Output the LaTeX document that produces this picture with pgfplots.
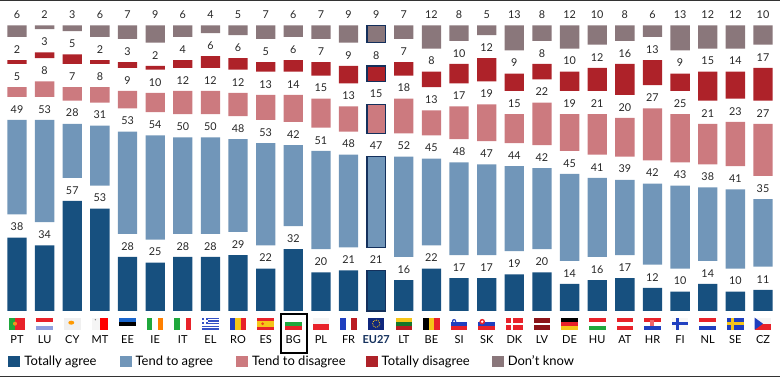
\documentclass[border=0pt]{standalone}
\usepackage{pgfplots}
\usepackage{pgfplotstable}
\usepackage{fontspec}
\setmainfont{Lato}
\pgfplotsset{compat=1.18}
\definecolor{ca}{HTML}{17507F}
\definecolor{cb}{HTML}{7196B9}
\definecolor{cc}{HTML}{CC7A7F}
\definecolor{cd}{HTML}{AE2229}
\definecolor{ce}{HTML}{8A777B}
\definecolor{navy}{HTML}{14305C}
\definecolor{fr}{HTML}{E8222A}
\definecolor{fb}{HTML}{1F3FBF}
\definecolor{fg}{HTML}{1FA83C}
\definecolor{fy}{HTML}{F5C518}
\pgfplotstableread{
i ta g tb tc td te
0 38 12 49 5 2 6
1 34 12 53 8 3 2
2 57 12 28 7 5 3
3 53 12 31 8 2 6
4 28 12 53 9 3 7
5 25 12 54 10 2 9
6 28 12 50 12 4 6
7 28 12 50 12 6 4
8 29 12 48 12 6 5
9 22 12 53 13 5 7
10 32 12 42 14 6 6
11 20 12 51 15 7 7
12 21 12 48 13 9 9
13 21 12 47 15 8 9
14 16 12 52 18 7 7
15 22 12 45 13 8 12
16 17 12 48 17 10 8
17 17 12 47 19 12 5
18 19 12 44 15 9 13
19 20 12 42 22 8 8
20 14 12 45 19 10 12
21 16 12 41 21 12 10
22 17 12 39 20 16 8
23 12 12 42 27 13 6
24 10 12 43 25 9 13
25 14 12 38 21 15 12
26 10 12 41 23 14 12
27 11 12 35 27 17 10
}\datatable
\newcommand\flagat[2]{\begin{scope}[shift={({(17+27.63*#1)*1pt},{59.3pt})},x=1pt,y=-1pt]#2\end{scope}}
\newcommand\hb[3]{\fill[#1] (-8.3,0) rectangle (8.3,4);\fill[#2] (-8.3,4) rectangle (8.3,8);\fill[#3] (-8.3,8) rectangle (8.3,12);}
\newcommand\vb[3]{\fill[#1] (-8.3,0) rectangle (-2.8,12);\fill[#2] (-2.8,0) rectangle (2.8,12);\fill[#3] (2.8,0) rectangle (8.3,12);}
\begin{document}
\begin{tikzpicture}
\useasboundingbox (0,0) rectangle (780pt,377pt);
\fill[black!80] (0,376.2pt) rectangle (780pt,377pt);
\fill[black!80] (0,0) rectangle (780pt,0.9pt);
\begin{axis}[
  at={(0,66pt)}, anchor=south west,
  scale only axis, width=780pt, height=311pt,
  xmin=-0.6153, xmax=27.615, ymin=0, ymax=161.14,
  clip=false,
  ybar stacked, bar width=19.3pt,
  axis line style={draw=none}, major tick style={draw=none},
  ytick=\empty,
  xtick={0,...,27},
  xticklabels={PT,LU,CY,MT,EE,IE,IT,EL,RO,ES,BG,PL,FR,{\textbf{\color{navy}EU27}},LT,BE,SI,SK,DK,LV,DE,HU,AT,HR,FI,NL,SE,CZ},
  xticklabel style={font=\fontsize{11}{12}\selectfont, anchor=center, yshift=-29pt, inner sep=0pt},
  point meta=rawy,
  visualization depends on=rawy \as \rawyval,
  /pgf/number format/assume math mode=true,
  nodes near coords style={font=\fontsize{10.8}{12}\selectfont, anchor=south, inner sep=0pt, yshift={\rawyval*0.965pt+6.5pt}, text=black!85},
  legend style={draw=none, fill=none, at={(0.01064,-0.1624)}, anchor=west, inner sep=0pt, font=\fontsize{13}{15}\selectfont, legend columns=5,
    /tikz/column 1/.style={column sep=2pt},
    /tikz/column 3/.style={column sep=2pt},
    /tikz/column 5/.style={column sep=2pt},
    /tikz/column 7/.style={column sep=2pt},
    /tikz/column 9/.style={column sep=2pt},
    /tikz/column 2/.style={column sep=21pt},
    /tikz/column 4/.style={column sep=21pt},
    /tikz/column 6/.style={column sep=18pt},
    /tikz/column 8/.style={column sep=20pt}},
  legend cell align=left,
  legend image code/.code={\fill[#1] (0pt,-5.6pt) rectangle (12pt,5.6pt);},
]
\addplot[fill=ca,draw=none,nodes near coords] table[x=i,y=ta]{\datatable};
\addlegendentry{Totally agree}
\addplot[fill=none,draw=none,forget plot] table[x=i,y=g]{\datatable};
\addplot[fill=cb,draw=none,nodes near coords] table[x=i,y=tb]{\datatable};
\addlegendentry{Tend to agree}
\addplot[fill=none,draw=none,forget plot] table[x=i,y=g]{\datatable};
\addplot[fill=cc,draw=none,nodes near coords] table[x=i,y=tc]{\datatable};
\addlegendentry{Tend to disagree}
\addplot[fill=none,draw=none,forget plot] table[x=i,y=g]{\datatable};
\addplot[fill=cd,draw=none,nodes near coords] table[x=i,y=td]{\datatable};
\addlegendentry{Totally disagree}
\addplot[fill=none,draw=none,forget plot] table[x=i,y=g]{\datatable};
\addplot[fill=ce,draw=none,nodes near coords] table[x=i,y=te]{\datatable};
\addlegendentry{Don't know}
\end{axis}
% EU27 outlines
\begin{axis}[
  at={(0,66pt)}, anchor=south west,
  scale only axis, width=780pt, height=311pt,
  xmin=-0.6153, xmax=27.615, ymin=0, ymax=161.14,
  clip=false, hide axis,
  ybar stacked, bar width=18.3pt,
]
\addplot[draw=navy,fill=none,line width=1.3pt] coordinates {(13,21)};
\addplot[draw=none,fill=none] coordinates {(13,12)};
\addplot[draw=navy,fill=none,line width=1.3pt] coordinates {(13,47)};
\addplot[draw=none,fill=none] coordinates {(13,12)};
\addplot[draw=navy,fill=none,line width=1.3pt] coordinates {(13,15)};
\addplot[draw=none,fill=none] coordinates {(13,12)};
\addplot[draw=navy,fill=none,line width=1.3pt] coordinates {(13,8)};
\addplot[draw=none,fill=none] coordinates {(13,12)};
\addplot[draw=navy,fill=none,line width=1.3pt] coordinates {(13,9)};
\end{axis}
% BG box
\draw[black,line width=2pt] (281pt,24pt) rectangle (306.5pt,62.5pt);
% flags
\flagat{0}{\fill[fr] (-2,0) rectangle (8.3,12);\fill[fg] (-8.3,0) rectangle (-2,12);\fill[fy!70!fr] (-2,6) circle (2);}
\flagat{1}{\hb{fr}{white}{fb!50}}
\flagat{2}{\fill[black!6] (-8.3,0) rectangle (8.3,12);\fill[orange!80!yellow] (-1,5) ellipse (3 and 2);}
\flagat{3}{\fill[black!4] (-8.3,0) rectangle (0,12);\fill[red] (0,0) rectangle (8.3,12);\fill[gray] (-4.5,2) circle (.7);}
\flagat{4}{\hb{fb!80!cyan}{black}{white}}
\flagat{5}{\vb{fg}{white}{orange}}
\flagat{6}{\vb{fg}{white}{fr}}
\flagat{7}{\fill[fb!90] (-8.3,0) rectangle (8.3,12);\foreach \y in {1.5,4.2,6.8,9.5}{\fill[white] (-8.3,\y) rectangle (8.3,\y+1.3);}\fill[fb!90] (-8.3,0) rectangle (-2,6.5);\fill[white] (-6,0) rectangle (-4.5,6.5);\fill[white] (-8.3,2.6) rectangle (-2,3.9);}
\flagat{8}{\vb{fb}{fy}{fr}}
\flagat{9}{\fill[fr] (-8.3,0) rectangle (8.3,12);\fill[fy] (-8.3,3) rectangle (8.3,9);\fill[fr!70!orange] (-3,6) circle (1.5);}
\flagat{10}{\hb{white}{fg}{fr}}
\flagat{11}{\fill[fr] (-8.3,6) rectangle (8.3,12);\fill[black!4] (-8.3,0) rectangle (8.3,6);}
\flagat{12}{\vb{fb}{white}{fr!80!black}}
\flagat{13}{\fill[navy!80!blue] (-8.3,0) rectangle (8.3,12);\draw[fy,line width=0.9pt,dash pattern=on 0.8pt off 1.1pt] (0,6) circle (3.7);}
\flagat{14}{\hb{fy}{fg!70!black}{fr!80!black}}
\flagat{15}{\vb{black}{fy}{fr}}
\flagat{16}{\hb{white}{fb}{fr}\fill[fb] (-5,3.5) circle (2.2);\fill[white] (-5,3.5) circle (1);}
\flagat{17}{\hb{white}{fb}{fr}\fill[fr] (-4.5,4) circle (2.8);\fill[white] (-4.5,4) circle (1.3);}
\flagat{18}{\fill[fr] (-8.3,0) rectangle (8.3,12);\fill[white] (-8.3,5) rectangle (8.3,7);\fill[white] (-3,0) rectangle (-1,12);}
\flagat{19}{\fill[fr!60!black] (-8.3,0) rectangle (8.3,12);\fill[white] (-8.3,5) rectangle (8.3,7);}
\flagat{20}{\hb{black}{fr}{fy}}
\flagat{21}{\hb{fr}{white}{fg}}
\flagat{22}{\hb{fr}{white}{fr}}
\flagat{23}{\hb{fr}{white}{fb}\fill[fr!70!white] (-2,2.5) rectangle (2,8);}
\flagat{24}{\fill[black!3] (-8.3,0) rectangle (8.3,12);\fill[fb] (-8.3,4.8) rectangle (8.3,7.2);\fill[fb] (-4,0) rectangle (-1.6,12);}
\flagat{25}{\hb{fr}{white}{fb}}
\flagat{26}{\fill[fb] (-8.3,0) rectangle (8.3,12);\fill[fy] (-8.3,4.8) rectangle (8.3,7.2);\fill[fy] (-4,0) rectangle (-1.6,12);}
\flagat{27}{\fill[black!4] (-8.3,0) rectangle (8.3,6);\fill[fr] (-8.3,6) rectangle (8.3,12);\fill[fb] (-8.3,0) -- (0,6) -- (-8.3,12) -- cycle;}
\end{tikzpicture}
\end{document}
